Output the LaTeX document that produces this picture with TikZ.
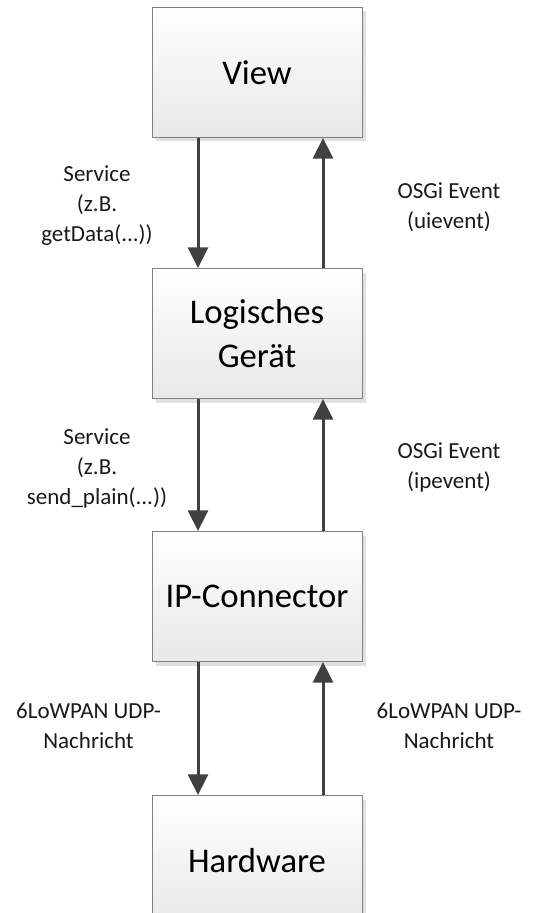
\documentclass[tikz,border=0pt]{standalone}
\usepackage{fontspec}
\setmainfont{Carlito}
\usetikzlibrary{arrows.meta,positioning,shadows}
\begin{document}
\begin{tikzpicture}[x=0.75pt,y=-0.75pt]
\tikzset{layer/.style={rectangle,draw=black!50,line width=0.75pt,top color=white,bottom color=black!9,minimum width=157.5pt,minimum height=97.5pt,align=center,font=\fontsize{26}{33}\selectfont,drop shadow={shadow xshift=3pt,shadow yshift=-3pt,fill=black!12,opacity=1}}}
\tikzset{flow/.style={draw=black!75,line width=2.25pt,-{Triangle[width=15pt,length=15.5pt]}}}
\tikzset{note/.style={align=center,font=\fontsize{17.25}{22.5}\selectfont,text=black!90}}
\clip (0,0) rectangle (535,913);

% the four layers
\node [layer] (view) at (257,72.5) {View};
\node [layer, below=97.5pt of view] (logik) {Logisches\\Gerät};
\node [layer, below=99pt of logik] (ipcon) {IP-Connector};
\node [layer, below=99.75pt of ipcon] (hw) {Hardware};

% calls downwards, events upwards
\draw [flow] ([xshift=-44.25pt]view.south)  -- ([xshift=-44.25pt]logik.north);
\draw [flow] ([xshift=49.5pt]logik.north)   -- ([xshift=49.5pt]view.south);
\draw [flow] ([xshift=-44.25pt]logik.south) -- ([xshift=-44.25pt]ipcon.north);
\draw [flow] ([xshift=49.5pt]ipcon.north)   -- ([xshift=49.5pt]logik.south);
\draw [flow] ([xshift=-44.25pt]ipcon.south) -- ([xshift=-44.25pt]hw.north);
\draw [flow] ([xshift=49.5pt]hw.north)      -- ([xshift=49.5pt]ipcon.south);

% labels
\node [note] (svcA) at (97,206) {Service\\(z.B.\\getData(...))};
\node [note] (evtA) at (449,207) {OSGi Event\\(uievent)};
\node [note] (svcB) at (97,468) {Service\\(z.B.\\send\_plain(...))};
\node [note] (evtB) at (449,467) {OSGi Event\\(ipevent)};
\node [note] (msgA) at (88.5,726) {6LoWPAN UDP-\\Nachricht};
\node [note] (msgB) at (449,726) {6LoWPAN UDP-\\Nachricht};
\end{tikzpicture}
\end{document}
